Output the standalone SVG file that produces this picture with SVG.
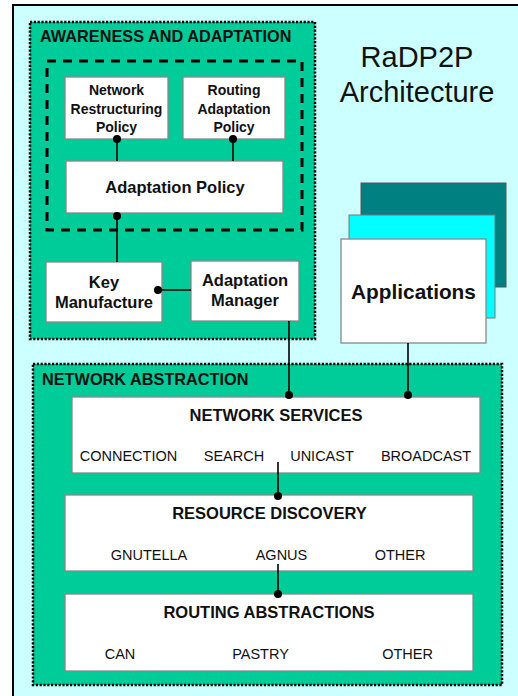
<svg xmlns="http://www.w3.org/2000/svg" width="518" height="696" viewBox="0 0 518 696">
<style>
.grp{fill:#00cc99;stroke:#000;stroke-width:2.5;stroke-dasharray:2.2 1.6}
.box{fill:#fff;stroke:#888;stroke-width:1.3}
.hd{font-family:"Liberation Sans",Arial,sans-serif;font-weight:bold;font-size:16.5px;fill:#111;text-anchor:middle}
.sec{font-family:"Liberation Sans",Arial,sans-serif;font-weight:bold;font-size:16.3px;fill:#111}
.it{font-family:"Liberation Sans",Arial,sans-serif;font-size:14.5px;fill:#111;text-anchor:middle}
.sm{font-family:"Liberation Sans",Arial,sans-serif;font-weight:bold;font-size:14px;fill:#111;text-anchor:middle}
.ln{stroke:#000;stroke-width:1.6;fill:none}
.dot{fill:#000}
</style>
<rect x="13" y="5" width="530" height="720" fill="#ccffff" stroke="#000" stroke-width="2"/>
<g id="awareness">
<rect class="grp" x="30" y="22" width="285" height="317"/>
<text class="sec" x="40" y="42">AWARENESS AND ADAPTATION</text>
<rect x="47" y="61" width="255" height="169" fill="none" stroke="#000" stroke-width="3" stroke-dasharray="9 7"/>
</g>
<g id="title">
<text x="417" y="67" font-family="'Liberation Sans',Arial,sans-serif" font-size="29" fill="#111" text-anchor="middle">RaDP2P</text>
<text x="417" y="102" font-family="'Liberation Sans',Arial,sans-serif" font-size="29" fill="#111" text-anchor="middle">Architecture</text>
</g>
<g id="network-abstraction">
<rect class="grp" x="33" y="364" width="469" height="321"/>
<text class="sec" x="42" y="385">NETWORK ABSTRACTION</text>
</g>
<g id="nrp">
<rect class="box" x="65" y="77" width="103" height="62"/>
<text class="sm" x="116.5" y="95">Network</text>
<text class="sm" x="116.5" y="114">Restructuring</text>
<text class="sm" x="116.5" y="132">Policy</text>
</g>
<g id="rap">
<rect class="box" x="183" y="77" width="102" height="62"/>
<text class="sm" x="234" y="95">Routing</text>
<text class="sm" x="234" y="114">Adaptation</text>
<text class="sm" x="234" y="132">Policy</text>
</g>
<g id="adaptation-policy">
<rect class="box" x="66" y="161" width="217" height="52"/>
<text class="hd" x="175" y="193">Adaptation Policy</text>
</g>
<g id="key-manufacture">
<rect class="box" x="46" y="262" width="116" height="60"/>
<text class="hd" x="104" y="287.5">Key</text>
<text class="hd" x="104" y="307.5">Manufacture</text>
</g>
<g id="adaptation-manager">
<rect class="box" x="191" y="261" width="108" height="60"/>
<text class="hd" x="245" y="286">Adaptation</text>
<text class="hd" x="245" y="306">Manager</text>
</g>
<g id="applications">
<rect x="361" y="183" width="145" height="104" fill="#008080" stroke="#555" stroke-width="1"/>
<rect x="349" y="215" width="146" height="103" fill="#00ffff" stroke="#777" stroke-width="1"/>
<rect class="box" x="341" y="239" width="145" height="104"/>
<text x="413.5" y="299" font-family="'Liberation Sans',Arial,sans-serif" font-weight="bold" font-size="20.8" fill="#111" text-anchor="middle">Applications</text>
</g>
<g id="network-services">
<rect class="box" x="72" y="397" width="408" height="76"/>
<text class="hd" x="276" y="421">NETWORK SERVICES</text>
<text class="it" x="128.5" y="461">CONNECTION</text>
<text class="it" x="234" y="461">SEARCH</text>
<text class="it" x="322" y="461">UNICAST</text>
<text class="it" x="426" y="461">BROADCAST</text>
</g>
<g id="resource-discovery">
<rect class="box" x="65" y="495" width="408" height="76"/>
<text class="hd" x="269.5" y="519">RESOURCE DISCOVERY</text>
<text class="it" x="149" y="560">GNUTELLA</text>
<text class="it" x="281.5" y="560">AGNUS</text>
<text class="it" x="400" y="560">OTHER</text>
</g>
<g id="routing-abstractions">
<rect class="box" x="65" y="594" width="408" height="77"/>
<text class="hd" x="269" y="618">ROUTING ABSTRACTIONS</text>
<text class="it" x="120" y="659">CAN</text>
<text class="it" x="260.5" y="659">PASTRY</text>
<text class="it" x="407.5" y="659">OTHER</text>
</g>
<g id="connectors">
<line class="ln" x1="117" y1="139" x2="117" y2="161"/>
<circle class="dot" cx="117" cy="139" r="4"/>
<line class="ln" x1="233" y1="139" x2="233" y2="161"/>
<circle class="dot" cx="233" cy="139" r="4"/>
<line class="ln" x1="117" y1="215" x2="117" y2="262"/>
<circle class="dot" cx="117" cy="216" r="4"/>
<line class="ln" x1="158" y1="290" x2="191" y2="290"/>
<circle class="dot" cx="158" cy="290" r="4"/>
<line class="ln" x1="289" y1="321" x2="289" y2="395"/>
<circle class="dot" cx="289" cy="395" r="4"/>
<line class="ln" x1="408" y1="343" x2="408" y2="395"/>
<circle class="dot" cx="408" cy="395" r="4"/>
<line class="ln" x1="278" y1="462" x2="278" y2="496"/>
<circle class="dot" cx="278" cy="496" r="4"/>
<line class="ln" x1="278" y1="564" x2="278" y2="594"/>
<circle class="dot" cx="278" cy="594" r="4"/>
</g>
</svg>
